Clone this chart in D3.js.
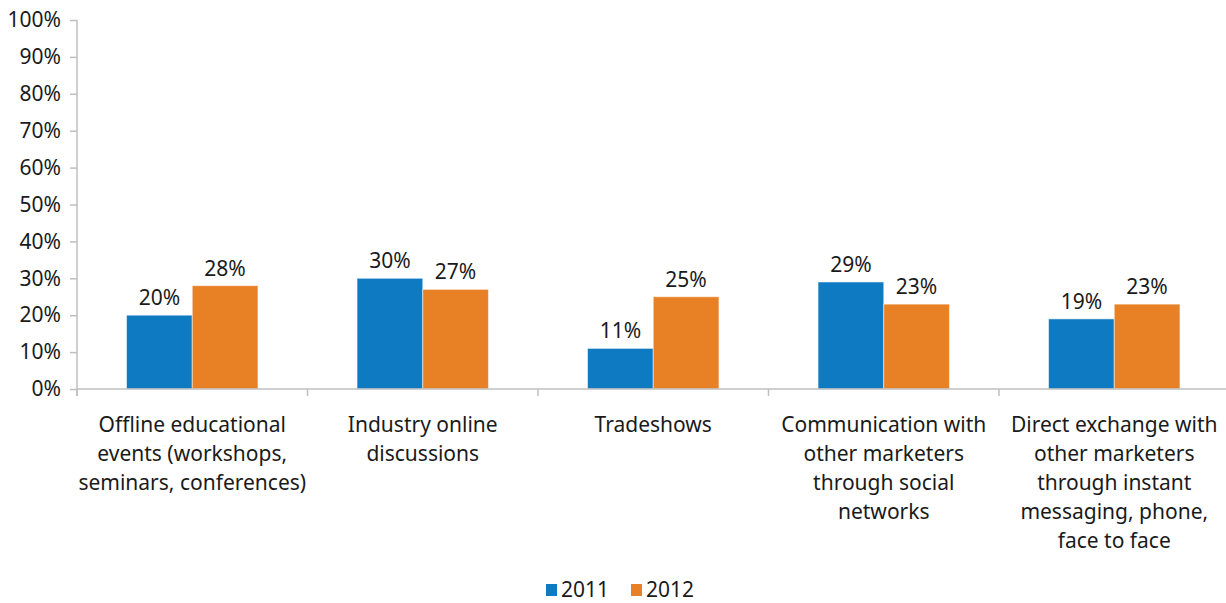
<!DOCTYPE html>
<html>
<head>
<meta charset="utf-8">
<script src="https://cdn.jsdelivr.net/npm/d3@7"></script>
<style>
  html, body { margin: 0; padding: 0; background: #fff; }
  svg { display: block; }
  text { font-family: "Noto Sans", "Open Sans", sans-serif; fill: #1a1a1a; }
</style>
</head>
<body>
<svg id="chart" width="1226" height="603"></svg>
<script>
// Category labels, one entry per line of the wrapped label
const categories = [
  ["Offline educational", "events (workshops,", "seminars, conferences)"],
  ["Industry online", "discussions"],
  ["Tradeshows"],
  ["Communication with", "other marketers", "through social", "networks"],
  ["Direct exchange with", "other marketers", "through instant", "messaging, phone,", "face to face"]
];
const seriesNames = ["2011", "2012"];
const values2011 = [20, 30, 11, 29, 19];
const values2012 = [28, 27, 25, 23, 23];
const yTicks = [0, 10, 20, 30, 40, 50, 60, 70, 80, 90, 100];
const colors = ["#0E7AC1", "#E88126"];

const svg = d3.select("#chart");
const margin = { left: 77, top: 20, right: 1229.5, bottom: 389 };
const fontSize = "21px";

const keys = categories.map((c, i) => i);
const x = d3.scaleBand().domain(keys).range([margin.left, margin.right])
  .paddingInner(0.43).paddingOuter(0.215);
const xs = d3.scaleBand().domain(seriesNames).range([0, x.bandwidth()]);
const y = d3.scaleLinear().domain([0, 100]).range([margin.bottom, margin.top]);

const axisColor = "#BFBFBF";

// Y axis
const yAxis = svg.append("g")
  .attr("transform", `translate(${margin.left},0)`)
  .call(d3.axisLeft(y).tickValues(yTicks).tickFormat(d => d + "%").tickSize(7).tickPadding(9));
yAxis.select(".domain").attr("stroke", axisColor).attr("stroke-width", 1.5)
  .attr("d", `M0,${margin.top}V${margin.bottom + 7}`);
yAxis.selectAll(".tick line").attr("stroke", axisColor).attr("stroke-width", 1.5);
yAxis.selectAll(".tick text").style("font-size", fontSize).attr("fill", "#1a1a1a");

// Bars
const rows = keys.map(i => ({ i, vals: [values2011[i], values2012[i]] }));
const groups = svg.append("g").selectAll("g").data(rows).join("g")
  .attr("transform", d => `translate(${x(d.i)},0)`);
groups.selectAll("rect").data(d => d.vals.map((v, k) => ({ v, k })))
  .join("rect")
  .attr("x", d => xs(seriesNames[d.k]))
  .attr("width", xs.bandwidth())
  .attr("y", d => y(d.v))
  .attr("height", d => y(0) - y(d.v))
  .attr("fill", d => colors[d.k])
  .attr("stroke", "#ffffff").attr("stroke-opacity", 0.5).attr("stroke-width", 1);
groups.selectAll("text.val").data(d => d.vals.map((v, k) => ({ v, k })))
  .join("text").attr("class", "val")
  .attr("x", d => xs(seriesNames[d.k]) + xs.bandwidth() / 2)
  .attr("y", d => y(d.v) - 10)
  .attr("text-anchor", "middle")
  .style("font-size", fontSize)
  .text(d => d.v + "%");

// X axis line and category separators
const xAxis = svg.append("g");
xAxis.append("line")
  .attr("x1", margin.left).attr("x2", margin.right)
  .attr("y1", y(0)).attr("y2", y(0))
  .attr("stroke", axisColor).attr("stroke-width", 1.5);
const bounds = keys.map(i => x(i) - x.step() * x.paddingInner() / 2).concat([margin.right]);
xAxis.selectAll("line.sep").data(bounds).join("line").attr("class", "sep")
  .attr("x1", d => d).attr("x2", d => d)
  .attr("y1", y(0)).attr("y2", y(0) + 7)
  .attr("stroke", axisColor).attr("stroke-width", 1.5);

// Category labels
const labels = svg.append("g").selectAll("text").data(keys).join("text")
  .attr("text-anchor", "middle")
  .attr("x", i => x(i) + x.bandwidth() / 2)
  .attr("y", 432)
  .style("font-size", fontSize);
labels.selectAll("tspan").data(i => categories[i]).join("tspan")
  .attr("x", function () { return d3.select(this.parentNode).attr("x"); })
  .attr("dy", (d, j) => j === 0 ? 0 : 29)
  .text(d => d);

// Legend
const legend = svg.append("g").attr("transform", "translate(546,590)");
const legendX = [0, 85];
seriesNames.forEach((name, k) => {
  const g = legend.append("g").attr("transform", `translate(${legendX[k]},0)`);
  g.append("rect").attr("x", 0).attr("y", -6).attr("width", 11).attr("height", 12).attr("fill", colors[k]);
  g.append("text").attr("x", 15).attr("y", 7).style("font-size", fontSize).text(name);
});
</script>
</body>
</html>
